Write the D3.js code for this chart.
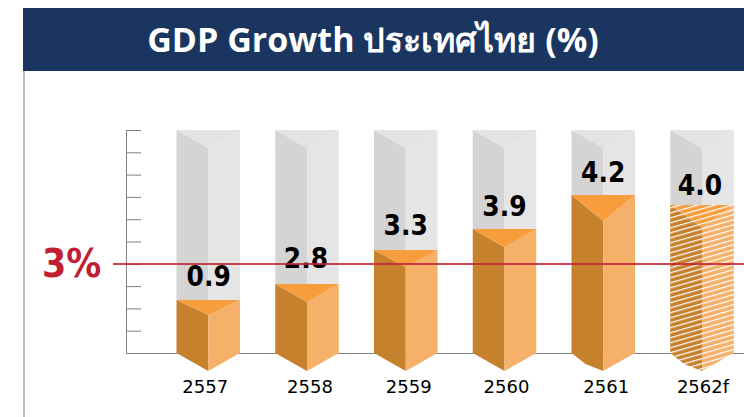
<!DOCTYPE html>
<html><head><meta charset="utf-8">
<script src="https://cdn.jsdelivr.net/npm/d3@7"></script>
<style>html,body{margin:0;padding:0;background:#fff;overflow:hidden}svg{display:block}</style>
</head><body><svg id="c" width="744" height="417"></svg>
<script>
const titleText = "GDP Growth ประเทศไทย (%)";
const years = ["2557","2558","2559","2560","2561","2562f"];
const growthLabels = ["0.9","2.8","3.3","3.9","4.2","4.0"];
// heights of the bars as drawn, on the picture's unlabelled 0-10 tick axis
const drawnHeights = [2.38,3.09,4.62,5.56,7.09,6.64];
const capDepths = [0.68,0.8,0.78,0.82,1.18,1.02];
const forecast = [false,false,false,false,false,true];
const axisTicks = d3.range(0,11);
const trackTop = 10, refLevel = 4;
const refLabel = "3%";
// hand placement of the annotations in the original infographic
const labelNudgeX = [0.5,-1,0,0,0,-2];
const labelNudgeY = [-14,-16,-15,-13,-13,-10];
const yearNudgeX = [-3,3,3,2,3,1];
const keeledBase = [false,false,false,false,true,true];

const svg = d3.select("#c");
const y = d3.scaleLinear().domain([0,10]).range([353,130]);
const x = d3.scaleBand().domain(years).range([176.5,733.75]).paddingInner(0.357).paddingOuter(0);
const unit = y(0)-y(1);
const defs = svg.append("defs");
const pat = defs.append("pattern").attr("id","hatch").attr("patternUnits","userSpaceOnUse")
  .attr("width",8).attr("height",4.8).attr("patternTransform","rotate(-16)");
pat.append("rect").attr("width",8).attr("height",1.2).attr("fill","#fff");

svg.append("rect").attr("x",23).attr("y",8).attr("width",721).attr("height",63).attr("fill","#1a355f");
svg.append("rect").attr("x",23).attr("y",71).attr("width",2).attr("height",346).attr("fill","#bdbdbd");
svg.append("text").attr("x",373).attr("y",52).attr("text-anchor","middle")
  .attr("font-family","'Open Sans','Noto Sans',sans-serif").attr("font-weight",700).attr("font-size",34)
  .attr("fill","#fff").text(titleText);

const axis = svg.append("g").attr("transform","translate(126.5,0)")
  .call(d3.axisRight(y).tickValues(axisTicks).tickSize(14.5).tickFormat(""));
axis.selectAll("path,line").attr("stroke","#808080").attr("stroke-width",1);
axis.select("path").attr("d",`M0,${y(10)}V${y(0)}`);
svg.append("line").attr("x1",126.5).attr("x2",744).attr("y1",353.5).attr("y2",353.5).attr("stroke","#808080");

const bars = svg.selectAll("g.bar").data(years).join("g").attr("class","bar");
bars.each(function(yr,i){
  const g = d3.select(this);
  const l = x(yr), w = x.bandwidth(), m = l+w/2, r = l+w;
  const top = y(drawnHeights[i]), tip = top + capDepths[i]*unit;
  const base = y(0), trackY = y(trackTop), apex = base + 18;
  const keel = keeledBase[i] ? [[l+14,base+11]] : [];
  const poly = (pts,fill)=>g.append("polygon").attr("points",pts.map(p=>p.join(",")).join(" ")).attr("fill",fill);
  poly([[l,trackY],[m,trackY+18],[m,top+1],[l,top+1]],"#d4d4d4");
  poly([[r,trackY],[m,trackY+18],[m,top+1],[r,top+1]],"#e5e5e5");
  poly([[l,trackY],[r,trackY],[m,trackY+18]],"#e3e3e3");
  poly([[l,top],[m,tip],[m,apex],...keel,[l,base]],"#c5812b");
  poly([[r,top],[m,tip],[m,apex],[r,base]],"#f5b06a");
  poly([[l,top],[r,top],[m,tip]],"#f79d3c");
  if(forecast[i]){
    poly([[l,top],[r,top],[r,base],[m,apex],...keel,[l,base]],"url(#hatch)");
  }
  g.append("text").attr("transform",`translate(${m+labelNudgeX[i]},${top+labelNudgeY[i]}) scale(1,1.1)`).attr("text-anchor","middle")
    .attr("font-family","'DejaVu Sans'").attr("font-weight",700).attr("font-size",25).attr("fill","#000").text(growthLabels[i]);
  g.append("text").attr("x",m+yearNudgeX[i]).attr("y",393).attr("text-anchor","middle")
    .attr("font-family","'DejaVu Sans'").attr("font-size",18).attr("fill","#000").text(yr);
});

svg.append("line").attr("x1",113).attr("x2",744).attr("y1",y(refLevel)+0.3).attr("y2",y(refLevel)+0.3)
  .attr("stroke","#c2223a").attr("stroke-opacity",0.85).attr("stroke-width",2);
svg.append("text").attr("transform","translate(42,277) scale(1,1.1)").attr("font-family","'DejaVu Sans'").attr("font-weight",700)
  .attr("font-size",35).attr("fill","#c01f33").text(refLabel);
</script></body></html>
